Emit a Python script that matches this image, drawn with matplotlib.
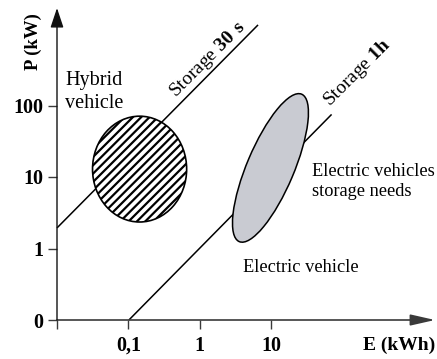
import numpy as np
import matplotlib
matplotlib.use("Agg")
import matplotlib.pyplot as plt
from matplotlib.patches import Ellipse

plt.rcParams["font.family"] = ["Liberation Serif", "DejaVu Serif"]
plt.rcParams["mathtext.fontset"] = "custom"
plt.rcParams["mathtext.rm"] = "Liberation Serif"
plt.rcParams["mathtext.bf"] = "Liberation Serif:bold"
plt.rcParams["hatch.linewidth"] = 1.6

# Axis tick values (log scale, the origin sits one decade below the first tick)
e_tick_values = [0.1, 1, 10]          # kWh
p_tick_values = [1, 10, 100]          # kW
e_tick_labels = ["", "0,1", "1", "10"]
p_tick_labels = ["0", "1", "10", "100"]
E_ORIGIN = 0.01
P_ORIGIN = 0.1

# Constant storage-time lines (energy kWh, power kW)
storage_30s_E = [0.01, 6.6]
storage_30s_P = [1.94, 1340]
storage_1h_E = [0.102, 71]
storage_1h_P = [0.1, 75]

# Hybrid vehicle region: centre (kWh, kW) and extent in decades
hybrid_center = (0.144, 12.9)
hybrid_span = (1.32, 1.48)

# Electric vehicle storage needs: centre (kWh, kW), extent in decades, tilt
ev_center = (9.86, 13.4)
ev_span = (2.24, 0.66)
ev_tilt = 67


def dec_e(v):
    return np.log10(np.asarray(v, dtype=float)) - np.log10(E_ORIGIN)


def dec_p(v):
    return np.log10(np.asarray(v, dtype=float)) - np.log10(P_ORIGIN)


W, H = 437, 359
fig = plt.figure(figsize=(W / 100, H / 100), dpi=100)
x0, x1 = 57, 435
y0, y1 = 320, 8
ax = fig.add_axes([x0 / W, (H - y0) / H, (x1 - x0) / W, (y0 - y1) / H])
xmax = (x1 - x0) / 71.3
ymax = (y0 - y1) / 71.5
ax.set_xlim(0, xmax)
ax.set_ylim(0, ymax)
for s in ax.spines.values():
    s.set_visible(False)
ax.patch.set_alpha(0)

axis_color = "#3a3a3a"
ax.annotate("", xy=(xmax, 0), xytext=(0, 0), xycoords="data",
            arrowprops=dict(arrowstyle="-|>,head_length=15,head_width=3.4",
                            mutation_scale=1, color=axis_color, lw=1.2,
                            shrinkA=0, shrinkB=0), annotation_clip=False)
ax.annotate("", xy=(0, ymax), xytext=(0, 0), xycoords="data",
            arrowprops=dict(arrowstyle="-|>,head_length=12,head_width=4",
                            mutation_scale=1, color="#111111", lw=1.0,
                            shrinkA=0, shrinkB=0), annotation_clip=False)

xt = np.concatenate([[0], dec_e(e_tick_values)])
yt = np.concatenate([[0], dec_p(p_tick_values)])
ax.set_xticks(xt, e_tick_labels, fontsize=14.5, fontweight="bold")
ax.set_yticks(yt, p_tick_labels, fontsize=14.5, fontweight="bold")
ax.tick_params(axis="both", direction="out", length=6.5, width=1.0,
               color=axis_color)
ax.tick_params(axis="x", pad=5)
ax.tick_params(axis="y", pad=3.5)

# Storage lines
ax.plot(dec_e(storage_30s_E), dec_p(storage_30s_P), color="black", lw=1.1,
        solid_capstyle="butt", zorder=2, clip_on=False)
ax.plot(dec_e(storage_1h_E), dec_p(storage_1h_P), color="black", lw=1.1,
        solid_capstyle="butt", zorder=2, clip_on=False)

# Regions
hyb = Ellipse((dec_e(hybrid_center[0]), dec_p(hybrid_center[1])),
              hybrid_span[0], hybrid_span[1], facecolor="white",
              edgecolor="black", hatch="////", lw=1.2, zorder=3)
ax.add_patch(hyb)
ev = Ellipse((dec_e(ev_center[0]), dec_p(ev_center[1])), ev_span[0],
             ev_span[1], angle=ev_tilt, facecolor="#c9cbd2",
             edgecolor="black", lw=1.1, zorder=3)
ax.add_patch(ev)

# Labels on the storage lines
ax.text(208 / W, 1 - 59 / H, r"Storage $\mathbf{30\ s}$", transform=fig.transFigure,
        rotation=45, rotation_mode="anchor", ha="center", va="center",
        fontsize=14)
ax.text(357 / W, 1 - 73 / H, r"Storage $\mathbf{1h}$", transform=fig.transFigure,
        rotation=45, rotation_mode="anchor", ha="center", va="center",
        fontsize=14)

# Annotations
fig.text(65 / W, 1 - 80 / H, "Hybrid", fontsize=14.5, ha="left", va="center")
fig.text(65 / W, 1 - 103 / H, "vehicle", fontsize=14.5, ha="left", va="center")
fig.text(312 / W, 1 - 172 / H, "Electric vehicles", fontsize=13.2, ha="left", va="center")
fig.text(312 / W, 1 - 191 / H, "storage needs", fontsize=13.2, ha="left", va="center")
fig.text(243 / W, 1 - 268 / H, "Electric vehicle", fontsize=13.2, ha="left", va="center")

# Axis titles
fig.text(33 / W, 1 - 42 / H, "P (kW)", rotation=90, fontsize=13.5,
         fontweight="bold", ha="center", va="center")
fig.text(435 / W, 1 - 345 / H, "E (kWh)", fontsize=14, fontweight="bold",
         ha="right", va="center")

fig.savefig("out.png", dpi=100)
